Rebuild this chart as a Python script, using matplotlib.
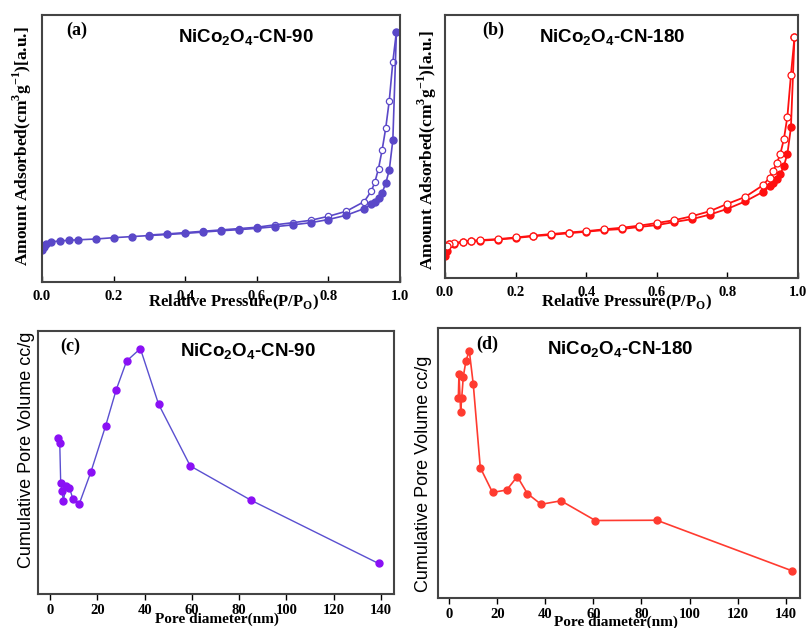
import matplotlib
matplotlib.use("Agg")
import matplotlib.pyplot as plt

plt.rcParams['font.family'] = 'Liberation Serif'
plt.rcParams['font.weight'] = 'bold'
plt.rcParams['font.size'] = 10.5
plt.rcParams['mathtext.fontset'] = 'custom'
plt.rcParams['mathtext.rm'] = 'Liberation Sans:bold'
plt.rcParams['mathtext.bf'] = 'Liberation Serif:bold'

# (a) NiCo2O4-CN-90 isotherm
p_ads_a = [0.0, 0.005, 0.01, 0.025, 0.05, 0.075, 0.1, 0.15, 0.2, 0.25, 0.3, 0.35, 0.4, 0.45,
           0.5, 0.55, 0.6, 0.65, 0.7, 0.75, 0.8, 0.85, 0.9, 0.92, 0.93, 0.94, 0.95, 0.96,
           0.97, 0.98, 0.99]
v_ads_a = [11.9, 13.1, 14.4, 15.0, 15.4, 15.6, 15.8, 16.1, 16.6, 17.0, 17.4, 17.8, 18.2, 18.7,
           19.2, 19.6, 20.1, 20.7, 21.4, 22.2, 23.4, 25.0, 27.5, 29.1, 30.0, 31.6, 33.4, 36.9,
           41.9, 53.1, 93.8]
p_des_a = [0.99, 0.98, 0.97, 0.96, 0.95, 0.94, 0.93, 0.92, 0.9, 0.85, 0.8, 0.75, 0.7, 0.65,
           0.6, 0.55, 0.5, 0.45, 0.4, 0.35, 0.3]
v_des_a = [93.8, 82.5, 67.9, 57.5, 49.4, 42.5, 37.5, 34.1, 30.1, 26.5, 24.6, 23.1, 22.2, 21.4,
           20.5, 20.0, 19.5, 19.0, 18.5, 18.0, 17.6]

# (b) NiCo2O4-CN-180 isotherm
p_ads_b = [0.0, 0.005, 0.01, 0.025, 0.05, 0.075, 0.1, 0.15, 0.2, 0.25, 0.3, 0.35, 0.4, 0.45,
           0.5, 0.55, 0.6, 0.65, 0.7, 0.75, 0.8, 0.85, 0.9, 0.92, 0.93, 0.94, 0.95, 0.96,
           0.97, 0.98, 0.99]
v_ads_b = [8.2, 10.1, 12.8, 13.1, 13.6, 14.0, 14.2, 14.6, 15.2, 15.9, 16.4, 17.0, 17.6, 18.2,
           18.6, 19.4, 20.1, 21.3, 22.4, 24.1, 26.3, 29.1, 32.7, 34.8, 36.1, 37.6, 39.5, 42.7,
           47.2, 57.3, 91.5]
p_des_b = [0.99, 0.98, 0.97, 0.96, 0.95, 0.94, 0.93, 0.92, 0.9, 0.85, 0.8, 0.75, 0.7, 0.65,
           0.6, 0.55, 0.5, 0.45, 0.4, 0.35, 0.3, 0.25, 0.2, 0.15, 0.1, 0.075, 0.05, 0.025,
           0.01, 0.005]
v_des_b = [91.5, 77.2, 61.4, 52.8, 47.2, 43.7, 40.8, 38.2, 35.2, 30.8, 28.2, 25.4, 23.5, 22.0,
           20.9, 19.9, 19.1, 18.5, 17.8, 17.3, 16.7, 16.1, 15.4, 14.8, 14.4, 14.2, 13.8, 13.3,
           13.0, 12.0]

# (c) pore volume, CN-90
d_c = [3.5, 4.1, 4.5, 5.1, 5.6, 6.8, 8.2, 9.6, 12.4, 17.2, 23.5, 28.0, 32.4, 38.2, 45.9,
       59.3, 84.9, 139.0]
pv_c = [59.4, 57.6, 42.3, 39.2, 35.4, 41.1, 40.4, 36.3, 34.4, 46.2, 63.9, 77.7, 88.6, 93.3,
        72.2, 48.7, 35.7, 11.6]

# (d) pore volume, CN-180
d_d = [3.75, 4.04, 4.74, 5.16, 5.83, 6.95, 8.32, 9.99, 12.9, 18.0, 23.9, 28.3, 32.5, 38.2,
       46.5, 60.8, 86.4, 142.6]
pv_d = [73.9, 82.9, 69.0, 73.9, 82.0, 87.9, 91.6, 79.1, 48.3, 39.1, 40.0, 45.0, 38.7, 34.7,
        36.0, 28.7, 28.8, 10.1]

iso_ticks = [0.0, 0.2, 0.4, 0.6, 0.8, 1.0]
iso_labels = ['0.0', '0.2', '0.4', '0.6', '0.8', '1.0']
pore_ticks = [0, 20, 40, 60, 80, 100, 120, 140]
pore_labels = ['0', '20', '40', '60', '80', '100', '120', '140']

W, H = 806, 628
fig = plt.figure(figsize=(W / 100, H / 100), dpi=100)


def box(l, t, r, b):
    return [l / W, 1 - b / H, (r - l) / W, (b - t) / H]


def ftext(x, y, s, **kw):
    fig.text(x / W, 1 - y / H, s, ha='center', va='center', **kw)


serif = 'Liberation Serif'
sans = 'Liberation Sans'
spine_col = '#444444'

axa = fig.add_axes(box(42, 15, 400, 282))
axb = fig.add_axes(box(445, 15, 798, 278))
axc = fig.add_axes(box(38, 331, 394, 594))
axd = fig.add_axes(box(438, 328, 800, 598))

col_a = '#5a48c8'
axa.plot(p_des_a, v_des_a, '-o', color=col_a, lw=1.2, ms=4.5, mfc='white', mec=col_a, mew=0.9)
axa.plot(p_ads_a, v_ads_a, '-o', color=col_a, lw=1.2, ms=5, mfc=col_a, mec=col_a)

col_b = '#ff1010'
axb.plot(p_ads_b, v_ads_b, '-o', color=col_b, lw=1.3, ms=5, mfc=col_b, mec=col_b)
axb.plot(p_des_b, v_des_b, '-o', color=col_b, lw=1.3, ms=5, mfc='white', mec=col_b, mew=0.9)

axc.plot(d_c, pv_c, '-', color='#5a4fd0', lw=1.0)
axc.plot(d_c, pv_c, 'o', color='#8a10f5', ms=5)

axd.plot(d_d, pv_d, '-o', color='#ff3b30', lw=1.2, ms=5)

for ax in (axa, axb):
    ax.set_xlim(0, 1.0)
    ax.set_ylim(0, 100)
    ax.set_xticks(iso_ticks, iso_labels)
    ax.tick_params(axis='x', direction='in', length=4, width=1, colors='black', pad=6)

for ax in (axc, axd):
    ax.set_ylim(0, 100)
    ax.set_xticks(pore_ticks, pore_labels)
    ax.tick_params(axis='x', direction='out', length=4, width=1, colors='black', pad=3)
axc.set_xlim(-5.1, 145.5)
axd.set_xlim(-4.7, 146)

for ax in (axa, axb, axc, axd):
    ax.set_yticks([])
    for sp in ax.spines.values():
        sp.set_color(spine_col)
        sp.set_linewidth(1.5)

# panel letters and sample names
ftext(77, 30, '(a)', family=serif, weight='bold', fontsize=13)
ftext(493, 30, '(b)', family=serif, weight='bold', fontsize=13)
ftext(70, 346, '(c)', family=serif, weight='bold', fontsize=13)
ftext(487, 344, '(d)', family=serif, weight='bold', fontsize=13)

ftext(246, 38, r'NiCo$_\mathrm{2}$O$_\mathrm{4}$-CN-90', family=sans, weight='bold', fontsize=13.5)
ftext(612, 38, r'NiCo$_\mathrm{2}$O$_\mathrm{4}$-CN-180', family=sans, weight='bold', fontsize=13.5)
ftext(248, 352, r'NiCo$_\mathrm{2}$O$_\mathrm{4}$-CN-90', family=sans, weight='bold', fontsize=13.5)
ftext(620, 350, r'NiCo$_\mathrm{2}$O$_\mathrm{4}$-CN-180', family=sans, weight='bold', fontsize=13.5)

# axis labels
ylab = r'Amount Adsorbed(cm$^\mathbf{3}$g$^\mathbf{-1}$)[a.u.]'
ftext(22, 146, ylab, family=serif, weight='bold', fontsize=12.5, rotation=90)
ftext(427, 150, ylab, family=serif, weight='bold', fontsize=12.5, rotation=90)
xlab = r'Relative Pressure(P/P$_\mathbf{O}$)'
ftext(234, 302, xlab, family=serif, weight='bold', fontsize=12)
ftext(627, 302, xlab, family=serif, weight='bold', fontsize=12)

ftext(27, 450, 'Cumulative Pore Volume cc/g', family=sans, weight='normal', fontsize=13, rotation=90)
ftext(423, 474, 'Cumulative Pore Volume cc/g', family=sans, weight='normal', fontsize=13, rotation=90)
ftext(217, 619, 'Pore diameter(nm)', family=serif, weight='bold', fontsize=11)
ftext(616, 622, 'Pore diameter(nm)', family=serif, weight='bold', fontsize=11)

fig.savefig('out.png', dpi=100)
